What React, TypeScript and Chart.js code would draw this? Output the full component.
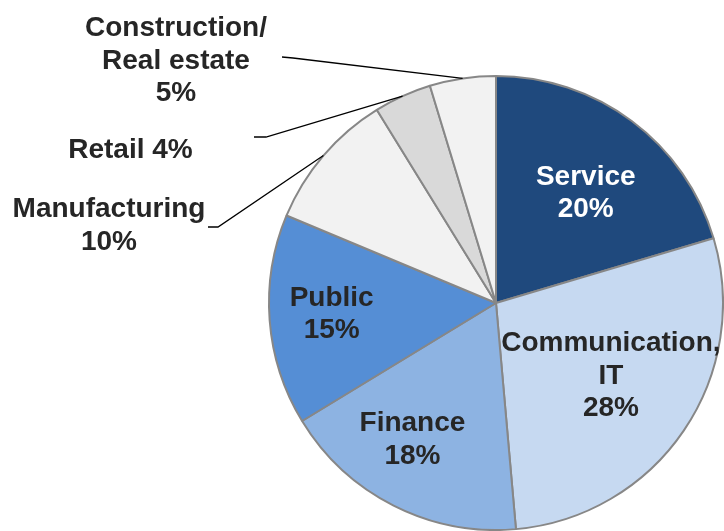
import React, { useEffect, useRef } from "react";
import { Chart, registerables } from "chart.js";

Chart.register(...registerables);

// ---- data ----
const categories: string[] = [
  "Service",
  "Communication, IT",
  "Finance",
  "Public",
  "Manufacturing",
  "Retail",
  "Construction/ Real estate",
];
const shares: number[] = [20.4, 28.2, 17.7, 15.0, 9.9, 4.1, 4.7];
const nameLines: string[][] = [
  ["Service"],
  ["Communication,", "IT"],
  ["Finance"],
  ["Public"],
  ["Manufacturing"],
  ["Retail"],
  ["Construction/", "Real estate"],
];
// whether the percentage shares the last name line
const inlinePct: boolean[] = [false, false, false, false, false, true, false];

// ---- styles ----
const sliceColors = ["#1F497D", "#C6D9F1", "#8DB3E2", "#558ED5", "#F2F2F2", "#D9D9D9", "#F2F2F2"];
const textColors = ["#FFFFFF", "#262626", "#262626", "#262626", "#262626", "#262626", "#262626"];
const FONT = 'bold 28px "Liberation Sans", Arial, sans-serif';
const LINE_H = 32.5;
const CAP_H = 20;

// inside labels: radius fraction and angle offset (deg)
const insideLayout: Record<number, { f: number; da: number }> = {
  0: { f: 0.632, da: 2.0 },
  1: { f: 0.595, da: -2.5 },
  2: { f: 0.698, da: 5.0 },
  3: { f: 0.725, da: 1.2 },
};
// outside labels: elbow, tail start and text anchor (offsets from pie centre, px)
const outsideLayout: Record<number, { elbow: [number, number]; tail: [number, number]; text: [number, number] }> = {
  4: { elbow: [-278, -76], tail: [-288, -76], text: [-387, -86] },
  5: { elbow: [-230, -166], tail: [-242, -166], text: [-365.5, -145] },
  6: { elbow: [-203, -245], tail: [-214, -246], text: [-320, -267] },
};

function buildLines(i: number): string[] {
  const pct = `${Math.round(shares[i])}%`;
  const names = nameLines[i].slice();
  if (inlinePct[i]) {
    names[names.length - 1] = `${names[names.length - 1]} ${pct}`;
    return names;
  }
  return [...names, pct];
}

const labelPlugin = {
  id: "sliceLabels",
  afterDatasetsDraw(chart: any) {
    const ctx: CanvasRenderingContext2D = chart.ctx;
    const meta = chart.getDatasetMeta(0);
    ctx.save();
    ctx.font = FONT;
    ctx.textAlign = "center";
    ctx.textBaseline = "alphabetic";
    meta.data.forEach((arc: any, i: number) => {
      const p = arc.getProps(["x", "y", "startAngle", "endAngle", "outerRadius"], true);
      const mid = (p.startAngle + p.endAngle) / 2;
      const lines = buildLines(i);
      ctx.fillStyle = textColors[i];
      if (insideLayout[i]) {
        const { f, da } = insideLayout[i];
        const a = mid + (da * Math.PI) / 180;
        const cx = p.x + p.outerRadius * f * Math.cos(a);
        const cy = p.y + p.outerRadius * f * Math.sin(a);
        const first = cy - ((lines.length - 1) * LINE_H - CAP_H) / 2;
        lines.forEach((t, k) => ctx.fillText(t, cx, first + k * LINE_H));
      } else if (outsideLayout[i]) {
        const o = outsideLayout[i];
        const ex = p.x + p.outerRadius * Math.cos(mid);
        const ey = p.y + p.outerRadius * Math.sin(mid);
        ctx.strokeStyle = "#000000";
        ctx.lineWidth = 1.3;
        ctx.beginPath();
        ctx.moveTo(p.x + o.tail[0], p.y + o.tail[1]);
        ctx.lineTo(p.x + o.elbow[0], p.y + o.elbow[1]);
        ctx.lineTo(ex, ey);
        ctx.stroke();
        lines.forEach((t, k) => ctx.fillText(t, p.x + o.text[0], p.y + o.text[1] + k * LINE_H));
      }
    });
    ctx.restore();
  },
};

export default function App() {
  const ref = useRef<HTMLCanvasElement | null>(null);
  useEffect(() => {
    if (!ref.current) return;
    const chart = new Chart(ref.current, {
      type: "pie",
      data: {
        labels: categories,
        datasets: [
          {
            data: shares,
            backgroundColor: sliceColors,
            borderColor: "#878787",
            borderWidth: 2,
          },
        ],
      },
      options: {
        responsive: false,
        animation: false,
        devicePixelRatio: 1,
        layout: { padding: { left: 268, top: 75, right: 0, bottom: 0 } },
        plugins: {
          legend: { display: false },
          tooltip: { enabled: false },
        },
      },
      plugins: [labelPlugin],
    });
    return () => chart.destroy();
  }, []);
  return (
    <div style={{ position: "fixed", left: 0, top: 0, width: 724, height: 531, background: "#ffffff" }}>
      <canvas ref={ref} width={724} height={531} />
    </div>
  );
}
